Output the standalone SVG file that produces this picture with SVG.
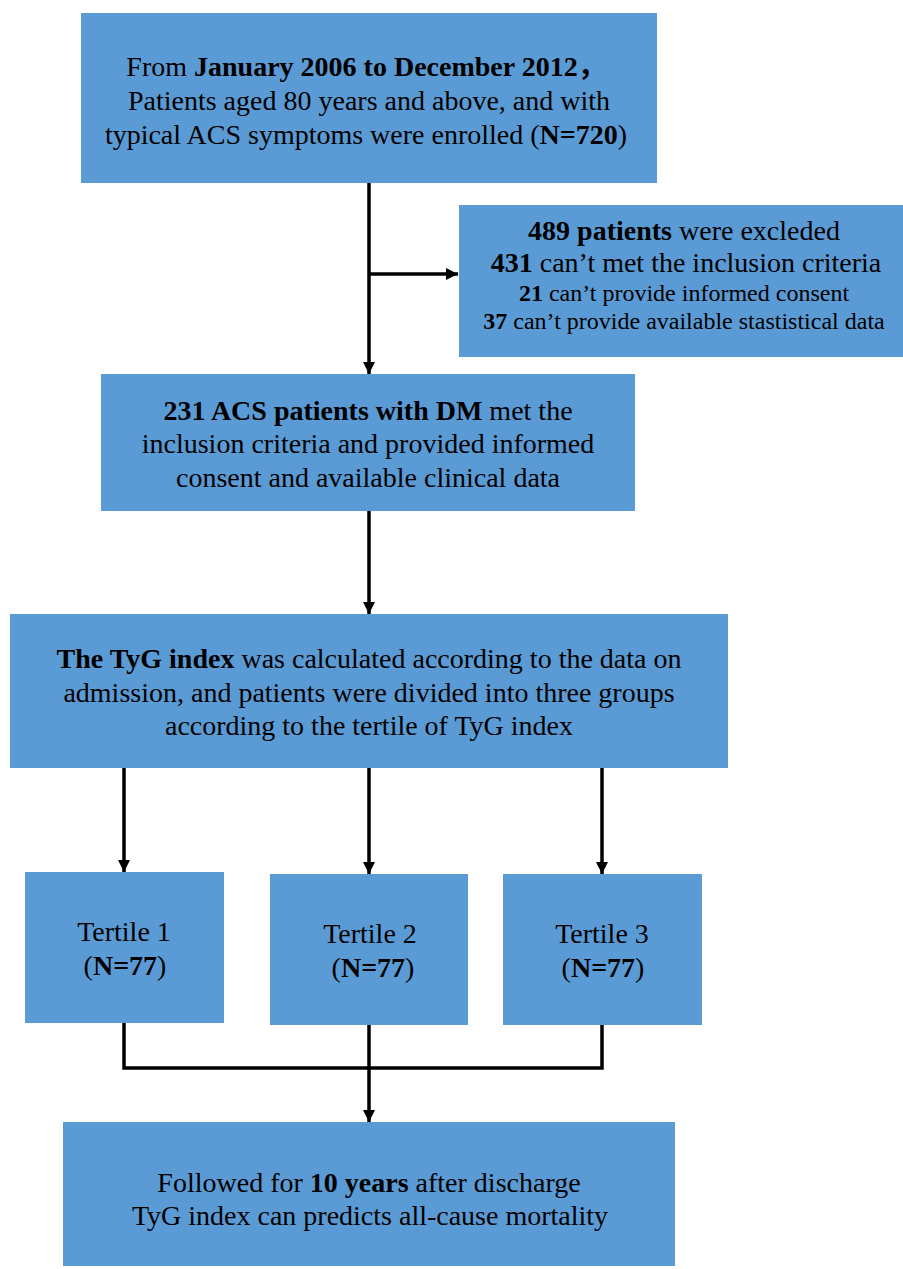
<svg xmlns="http://www.w3.org/2000/svg" width="903" height="1269" viewBox="0 0 903 1269">
<style>
.box{fill:#5B9BD5;}
.t{font-family:"Liberation Serif","Times New Roman","Noto Sans CJK SC",serif;font-size:28px;fill:#000;text-anchor:middle;}
.s{font-size:24px;}
.b{font-weight:bold;}
.ln{stroke:#000;stroke-width:3.5;fill:none;}
</style>
<defs>
<marker id="ah" viewBox="0 0 12 12" refX="12" refY="6" markerWidth="12" markerHeight="12" markerUnits="userSpaceOnUse" orient="auto">
<path d="M0,0 L12,6 L0,12 z" fill="#000"/>
</marker>
</defs>
<rect width="903" height="1269" fill="#fff"/>
<g id="connectors">
<line class="ln" x1="369" y1="183" x2="369" y2="374" marker-end="url(#ah)"/>
<line class="ln" x1="369" y1="274" x2="458" y2="274" marker-end="url(#ah)"/>
<line class="ln" x1="369" y1="511" x2="369" y2="614" marker-end="url(#ah)"/>
<line class="ln" x1="124" y1="768" x2="124" y2="872" marker-end="url(#ah)"/>
<line class="ln" x1="369" y1="768" x2="369" y2="874" marker-end="url(#ah)"/>
<line class="ln" x1="602" y1="768" x2="602" y2="874" marker-end="url(#ah)"/>
<polyline class="ln" points="124,1023 124,1068 602,1068 602,1025"/>
<line class="ln" x1="369" y1="1025" x2="369" y2="1122" marker-end="url(#ah)"/>
</g>
<g id="enrolled">
<rect class="box" x="81" y="13" width="576" height="170"/>
<text class="t" x="366" y="76">From <tspan class="b">January 2006 to December 2012，</tspan></text>
<text class="t" x="369" y="110">Patients aged 80 years and above, and with</text>
<text class="t" x="366" y="144">typical ACS symptoms were enrolled (<tspan class="b">N=720</tspan>)</text>
</g>
<g id="excluded">
<rect class="box" x="459" y="205" width="444" height="152"/>
<text class="t" x="684" y="240"><tspan class="b">489 patients</tspan> were excleded</text>
<text class="t" x="686" y="272"><tspan class="b">431</tspan> can’t met the inclusion criteria</text>
<text class="t s" x="684" y="301"><tspan class="b">21</tspan> can’t provide informed consent</text>
<text class="t s" x="684" y="329"><tspan class="b">37</tspan> can’t provide available stastistical data</text>
</g>
<g id="included">
<rect class="box" x="101" y="374" width="534" height="137"/>
<text class="t" x="368" y="420"><tspan class="b">231 ACS patients with DM</tspan> met the</text>
<text class="t" x="368" y="453">inclusion criteria and provided informed</text>
<text class="t" x="368" y="487">consent and available clinical data</text>
</g>
<g id="tyg">
<rect class="box" x="10" y="614" width="718" height="154"/>
<text class="t" x="369" y="668"><tspan class="b">The TyG index</tspan> was calculated according to the data on</text>
<text class="t" x="369" y="702">admission, and patients were divided into three groups</text>
<text class="t" x="369" y="735">according to the tertile of TyG index</text>
</g>
<g id="tertile1">
<rect class="box" x="25" y="872" width="199" height="151"/>
<text class="t" x="124" y="941">Tertile 1</text>
<text class="t" x="125" y="975">(<tspan class="b">N=77</tspan>)</text>
</g>
<g id="tertile2">
<rect class="box" x="270" y="874" width="198" height="151"/>
<text class="t" x="370" y="943">Tertile 2</text>
<text class="t" x="373" y="977">(<tspan class="b">N=77</tspan>)</text>
</g>
<g id="tertile3">
<rect class="box" x="503" y="874" width="199" height="151"/>
<text class="t" x="602" y="943">Tertile 3</text>
<text class="t" x="603" y="977">(<tspan class="b">N=77</tspan>)</text>
</g>
<g id="followup">
<rect class="box" x="63" y="1122" width="612" height="144"/>
<text class="t" x="369" y="1192">Followed for <tspan class="b">10 years</tspan> after discharge</text>
<text class="t" x="370" y="1225">TyG index can predicts all-cause mortality</text>
</g>
</svg>
